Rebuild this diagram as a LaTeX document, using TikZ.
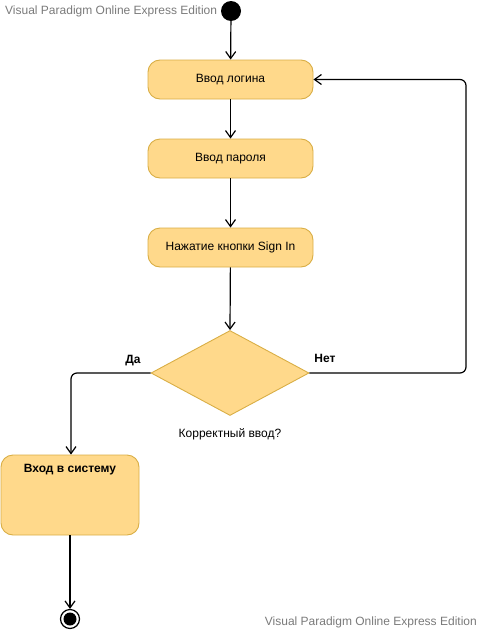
\documentclass[tikz,border=0pt]{standalone}
\usepackage{fontspec}
\setmainfont{Liberation Sans}
\usetikzlibrary{shapes.geometric,arrows.meta}
\definecolor{actfill}{HTML}{FFD98B}
\definecolor{actline}{HTML}{D9AE45}
\definecolor{wmark}{HTML}{7A7A7A}
\tikzset{
  flow/.style={line width=1.2pt, -{Straight Barb[length=7pt,width=10pt,line width=1.2pt]}, rounded corners=6pt},
  action/.style={draw=actline, fill=actfill, line width=0.9pt, rounded corners=12pt,
    minimum width=165pt, minimum height=39pt, inner sep=0pt, font=\fontsize{12}{14}\selectfont},
  guard/.style={font=\bfseries\fontsize{12}{14}\selectfont},
  watermark/.style={text=wmark, font=\fontsize{12}{14}\selectfont, inner sep=0pt}
}
\begin{document}
\begin{tikzpicture}[x=1pt,y=-1pt]
\useasboundingbox (0,0) rectangle (483,632);

\node[watermark, anchor=west] (wmtop) at (5,11) {Visual Paradigm Online Express Edition};
\node[watermark, anchor=east] (wmbot) at (477,622) {Visual Paradigm Online Express Edition};

\node[circle, fill=black, minimum size=20pt, inner sep=0pt] (start) at (231,11) {};

\node[action] (login) at (230.5,79.5) {Ввод логина};
\node[action] (pass) at (230.5,158.5) {Ввод пароля};
\node[action] (click) at (230.5,247.5) {Нажатие кнопки Sign In};

\node[diamond, aspect=1.86, draw=actline, fill=actfill, line width=0.9pt,
  minimum width=158pt, minimum height=85pt, inner sep=0pt] (check) at (230,373) {};
\node[font=\fontsize{12}{14}\selectfont] (checklbl) at (230,434) {Корректный ввод?};

\node[draw=actline, fill=actfill, line width=0.9pt, rounded corners=12pt,
  minimum width=138pt, minimum height=80pt, inner sep=0pt] (enter) at (70,495) {};
\node[font=\bfseries\fontsize{12}{14}\selectfont] (enterlbl) at (70,470) {Вход в систему};

\node[circle, draw=black, line width=1.2pt, fill=white, minimum size=19pt, inner sep=0pt] (end) at (70,619) {};
\node[circle, fill=black, minimum size=13pt, inner sep=0pt] (endcore) at (end) {};

\draw[flow] (start) -- (login);
\draw[flow] (login) -- (pass);
\draw[flow] (pass) -- (click);
\draw[flow] (click) -- (check.north);
\draw[flow] (check.west) -- (71,373) -- (enter.north -| 71,0);
\draw[flow] (check.east) -- (466,373) -- (466,79.5) -- (login.east);
\draw[flow] (enter) -- (end);

\node[guard] (yes) at (133,361) {Да};
\node[guard] (no) at (325,358) {Нет};
\end{tikzpicture}
\end{document}
